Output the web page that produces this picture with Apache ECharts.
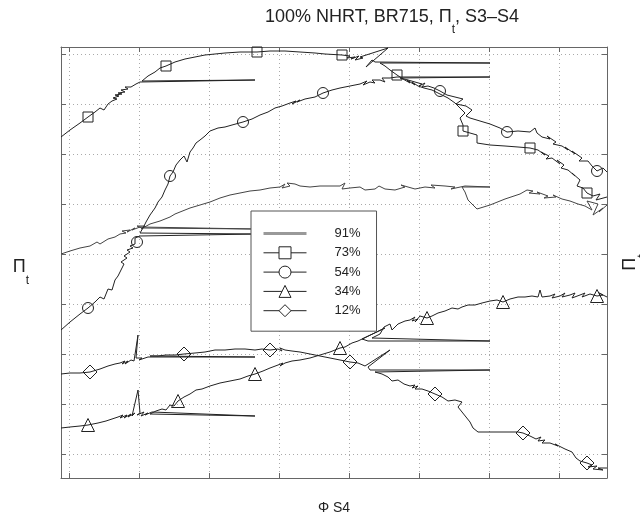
<!DOCTYPE html>
<html><head><meta charset="utf-8">
<script src="https://cdn.jsdelivr.net/npm/echarts@6/dist/echarts.min.js"></script>
<style>html,body{margin:0;padding:0;background:#fff}#c{width:640px;height:517px}</style>
</head><body><div id="c"></div>
<script>
const xTicks = [0,7,14,21,28,35,42,49];
const yTicks = [0,5,10,15,20,25,30,35,40];
const seriesNames = ['91%','73%','54%','34%','12%'];
const seriesSymbols = ['none','rect','circle','triangle','diamond'];
const seriesSymbolSizes = [0,10,11,13,14];
// [phi, pi, markerFlag]
const s91 = [[-0.8,20.0],[0.1,20.3],[1.1,20.6],[2.1,20.8],[2.8,21.2],[3.1,21.0],[3.9,21.5],[4.6,21.7],[5.1,22.0],[5.7,22.1],[5.3,22.3],[6.1,22.4],[5.8,22.2],[6.6,22.6],[6.3,22.4],[7.1,22.7],[18.6,22.5],[7.3,22.6],[6.8,22.8],[7.6,22.8],[7.2,22.5],[8.1,23.0],[9.1,23.3],[10.1,23.7],[10.6,24.0],[11.1,24.2],[12.1,24.6],[13.1,24.9],[14.1,25.2],[15.1,25.6],[16.1,25.9],[17.1,26.1],[18.1,26.3],[19.1,26.4],[20.1,26.6],[21.1,26.7],[21.6,27.0],[21.3,26.6],[22.1,26.8],[21.8,27.1],[22.6,27.0],[23.1,26.8],[24.1,26.7],[25.1,26.8],[26.1,26.8],[27.1,26.8],[27.6,27.1],[27.3,26.5],[28.1,26.6],[29.1,26.7],[29.6,26.4],[30.6,26.5],[31.0,26.8],[31.6,26.5],[32.6,26.4],[33.6,26.7],[33.2,26.9],[34.6,26.5],[35.6,26.7],[36.6,26.6],[36.2,26.9],[37.6,26.8],[38.6,26.7],[38.2,26.5],[39.6,26.8],[42.1,26.7],[39.3,26.7],[39.6,26.2],[39.9,25.4],[40.8,24.5],[42.1,24.9],[43.6,25.5],[45.1,26.0],[45.8,26.4],[46.4,26.3],[46.0,26.1],[47.1,26.0],[46.8,26.2],[47.9,25.8],[47.5,25.6],[48.7,25.7],[48.4,25.9],[49.3,25.5],[50.1,25.3],[50.9,25.0],[51.6,24.8],[52.3,24.4],[51.8,25.3],[52.9,25.0],[52.4,23.9],[53.4,24.6],[53.0,24.2],[53.8,24.9]];
const s73 = [[-0.8,31.7],[0.1,32.4],[1.1,33.1],[1.9,33.7,1],[2.6,34.2],[3.1,34.6],[3.5,34.4],[3.9,35.0],[4.3,35.3],[4.8,35.5],[4.4,35.6],[5.0,35.8],[4.6,35.9],[5.3,36.0],[4.9,36.1],[5.6,36.2],[5.2,36.4],[5.9,36.5],[5.6,36.7],[6.2,36.7],[6.7,37.0],[7.1,37.2],[18.6,37.4],[7.3,37.3],[7.9,37.8],[8.6,38.2],[9.1,38.6],[9.7,38.8,1],[10.6,39.2],[11.6,39.5],[12.6,39.7],[13.6,39.9],[14.6,40.0],[15.6,40.1],[17.1,40.2],[18.8,40.2,1],[20.1,40.3],[21.6,40.3],[23.1,40.2],[24.6,40.1],[25.6,40.0],[27.3,39.9,1],[28.1,39.8],[27.8,39.6],[28.6,39.7],[28.2,39.5],[29.0,39.8],[28.6,39.4],[29.4,39.6],[29.1,39.7],[31.9,40.6],[29.7,38.7],[30.3,39.4],[30.6,39.2],[42.1,39.1],[31.1,39.1],[31.6,38.8],[32.1,38.4],[32.8,37.9,1],[33.4,37.5],[34.1,37.1],[33.8,37.4],[34.6,36.9],[34.3,37.2],[34.9,36.8],[35.5,36.6],[36.3,36.4],[37.1,36.0],[37.9,35.6],[38.6,35.1],[39.1,34.6],[39.6,34.1],[39.1,33.6],[39.4,32.9],[39.4,32.3,1],[40.1,32.1],[40.8,31.9],[40.8,31.1],[42.1,30.9],[43.6,30.8],[44.9,30.7],[46.1,30.6,1],[46.9,30.4],[47.6,29.9],[47.2,30.2],[48.0,29.8],[47.7,29.5],[48.3,29.6],[49.1,29.0],[48.8,29.4],[49.5,28.9],[49.2,28.6],[49.9,28.4],[50.6,27.8],[50.3,28.1],[51.1,27.4],[50.8,26.8],[51.4,26.6],[51.8,26.1,1],[52.4,25.8],[53.1,26.0],[52.7,25.4],[53.8,25.7]];
const s54 = [[-0.8,12.4],[0.1,13.2],[1.1,14.0],[1.9,14.6,1],[2.6,15.2],[3.1,15.7],[3.5,15.5],[3.9,16.5],[4.3,16.4],[4.6,17.4],[4.9,17.8],[5.2,18.4],[5.5,19.0],[5.2,19.2],[5.8,19.6],[5.5,19.8],[6.1,20.2],[5.8,20.4],[6.4,20.6],[6.1,20.8],[6.6,21.0],[6.8,21.2,1],[6.6,21.6],[7.1,21.8],[18.6,22.0],[7.1,22.1],[7.4,22.6],[7.7,23.2],[8.1,23.9],[8.6,24.6],[8.9,25.2],[9.3,25.7],[9.6,26.4],[9.9,27.0],[10.1,27.8,1],[10.4,28.2],[10.7,28.9],[11.1,29.4],[11.5,29.8],[11.8,29.2],[12.1,30.2],[12.4,30.6],[12.7,31.1],[13.1,31.4],[13.6,31.8],[14.1,32.3],[14.9,32.6],[15.6,32.7],[16.3,32.9],[17.4,33.2,1],[18.3,33.5],[19.1,33.9],[19.9,34.2],[20.6,34.6],[21.3,34.8],[22.1,35.1],[22.7,35.3],[22.3,35.0],[23.1,35.4],[22.8,35.2],[23.6,35.5],[24.6,35.7],[25.4,36.1,1],[26.3,36.4],[27.1,36.6],[28.1,36.8],[29.1,37.0],[29.8,37.3],[29.4,36.9],[30.1,37.2],[30.6,37.1],[30.3,37.4],[31.1,37.4],[31.6,37.2],[31.3,37.6],[32.1,37.6],[32.8,37.7],[42.1,37.7],[33.1,37.6],[33.9,37.4],[34.6,37.2],[35.3,37.0],[35.0,36.8],[35.6,37.1],[35.3,36.7],[35.9,36.8],[36.5,36.6],[37.1,36.3,1],[37.8,35.9],[38.6,35.7],[39.4,35.5],[38.7,35.0],[39.7,34.8],[40.3,34.4],[39.7,33.8],[40.1,33.6],[41.1,33.3],[42.1,33.0],[43.1,32.6],[43.8,32.2,1],[44.9,32.3],[46.1,32.2],[46.6,32.6],[46.8,32.1],[47.3,31.7],[48.1,31.5],[47.8,31.8],[48.7,31.2],[48.4,31.0],[49.3,30.8],[49.9,30.4],[49.6,30.7],[50.6,30.0],[50.3,30.3],[51.3,29.6],[51.0,29.3],[51.9,29.3],[52.3,28.8],[52.8,28.3,1],[53.4,28.6],[53.8,28.2]];
const s34 = [[-0.8,2.6],[0.1,2.7],[1.1,2.8],[1.9,2.9,1],[2.9,3.1],[3.7,3.3],[4.3,3.5],[4.9,3.7],[5.4,3.9],[5.1,3.6],[5.8,3.9],[5.5,3.6],[6.2,4.0],[5.9,3.7],[6.6,4.1],[6.3,3.8],[6.9,6.4],[7.1,4.1],[6.8,3.9],[7.5,4.2],[7.2,3.8],[7.9,4.1],[7.6,3.9],[8.3,4.2],[18.6,3.8],[8.1,4.0],[8.7,4.3],[9.3,4.5],[9.7,4.4],[10.1,4.9],[10.5,4.8],[10.9,5.3,1],[11.5,5.7],[12.1,6.0],[12.7,6.4],[13.3,6.5],[14.1,6.8],[15.1,7.1],[16.1,7.3],[17.1,7.5],[17.9,7.8],[18.6,8.0,1],[19.4,8.3],[20.1,8.6],[20.9,8.9],[21.4,9.1],[21.1,8.8],[21.6,9.1],[22.3,9.3],[23.1,9.4],[24.1,9.6],[25.1,9.9],[26.1,10.2],[27.1,10.6,1],[27.6,10.7],[28.3,11.1],[28.9,11.3],[31.6,12.6],[29.3,11.5],[29.9,11.3],[42.1,11.3],[30.3,11.6],[31.1,12.0],[31.5,12.7],[32.1,13.0],[32.3,12.4],[32.9,13.0],[33.6,13.3],[34.1,13.4],[34.6,13.7],[34.3,13.3],[34.9,13.5],[34.6,13.2],[35.1,13.8],[35.8,13.6,1],[36.3,13.8],[36.9,14.1],[37.6,14.3],[38.3,14.6],[38.9,14.5],[39.3,14.7],[39.9,14.9],[40.6,14.9],[41.3,15.1],[42.1,15.3],[42.8,15.4],[43.4,15.2,1],[44.1,15.5],[44.9,15.7],[45.6,15.7],[46.3,15.8],[46.9,15.7],[47.1,16.4],[47.3,15.7],[48.1,15.8],[48.6,16.0],[48.3,15.6],[49.1,15.8],[49.6,16.1],[49.3,15.7],[50.1,15.9],[50.6,16.1],[50.3,15.6],[51.1,15.9],[51.6,16.1],[51.3,15.7],[52.1,16.0],[52.8,15.8,1],[53.4,15.9],[53.0,16.1],[53.8,15.7]];
const s12 = [[-0.8,8.0],[0.1,8.1],[1.1,8.1],[2.1,8.2,1],[3.1,8.5],[3.9,8.8],[4.6,9.0],[5.1,9.1],[5.6,9.3],[5.3,9.0],[5.9,9.3],[5.6,9.0],[6.2,9.4],[6.5,9.3],[6.9,11.9],[6.7,9.6],[7.3,9.6],[7.0,9.4],[7.9,9.7],[18.6,9.7],[8.1,9.8],[8.9,9.8],[9.7,9.9],[10.6,9.9],[11.5,10.0,1],[12.6,10.1],[13.6,10.2],[14.6,10.4],[15.6,10.4],[16.6,10.5],[17.6,10.5],[18.6,10.4],[19.3,10.5],[20.1,10.4,1],[20.9,10.5],[21.3,10.3],[21.1,10.6],[21.6,10.4],[22.3,10.3],[23.1,10.2],[24.1,10.0],[25.1,9.8],[26.1,9.6],[27.1,9.4],[28.1,9.2,1],[28.9,9.1],[29.6,8.8],[32.1,10.4],[29.9,8.7],[30.1,8.4],[42.1,8.4],[30.6,8.2],[31.3,8.0],[31.9,7.7],[32.3,7.3],[32.9,7.4],[33.5,7.0],[34.1,6.8],[34.6,6.9],[34.3,6.6],[34.9,6.8],[34.6,6.5],[35.3,6.5],[35.9,6.3],[36.6,6.0,1],[37.3,5.7],[37.9,5.3],[38.6,5.4],[39.3,5.2],[38.9,4.7],[39.3,4.2],[39.7,3.7],[40.1,3.2],[40.4,2.6],[40.9,2.2],[42.1,2.2],[43.6,2.2],[44.9,2.2],[45.4,2.1,1],[46.1,1.8],[46.7,1.5],[47.2,1.7],[46.9,1.3],[47.6,1.4],[47.3,1.1],[48.1,1.1],[48.9,0.8],[48.6,1.0],[49.6,0.5],[50.3,0.2],[50.7,-0.4],[51.1,-0.7],[51.8,-0.9,1],[52.3,-1.1],[51.9,-1.3],[52.8,-1.2],[52.4,-1.5],[53.4,-1.6],[52.9,-1.4],[53.8,-1.4]];
const seriesData = [s91, s73, s54, s34, s12];

const FONT = 'Liberation Sans, Arial, sans-serif';
const chart = echarts.init(document.getElementById('c'), null, {renderer:'canvas'});
const piRich = {
  n:{fontSize:18, lineHeight:28, verticalAlign:'top', color:'#222', fontFamily:FONT},
  p:{fontSize:18, lineHeight:28, verticalAlign:'top', color:'#222', fontFamily:FONT},
  s:{fontSize:12, lineHeight:12, verticalAlign:'bottom', color:'#222', fontFamily:FONT}
};
function axisCommon(ticks, min, max){
  return {type:'value', min:min, max:max,
    axisLine:{show:true, onZero:false, lineStyle:{color:'#666', width:1}},
    axisTick:{show:true, inside:true, length:5, customValues:ticks, lineStyle:{color:'#666'}},
    axisLabel:{show:false, customValues:ticks},
    splitLine:{show:false}};
}
const gridSplit = {show:true, lineStyle:{color:'#aaa', type:[1,3], width:1}};

const series = seriesData.map((arr, i) => ({
  name: seriesNames[i], type:'line',
  symbol: seriesSymbols[i], symbolSize: seriesSymbolSizes[i], showSymbol: true,
  data: arr.map(p => ({value:[p[0], p[1]], symbol: p[2] ? seriesSymbols[i] : 'none'})),
  lineStyle:{color: i === 0 ? '#444' : '#222', width:1},
  itemStyle:{color:'rgba(0,0,0,0)', borderColor:'#222', borderWidth:1},
  emphasis:{disabled:true}, silent:true, clip:true, z: 2
}));

const option = {
  animation:false,
  backgroundColor:'#fff',
  title:{
    text:'{n|100% NHRT, BR715, }{p|Π}{s|t}{n|, S3–S4}',
    left:265, top:8, padding:0,
    textStyle:{fontWeight:'normal', fontFamily:FONT, rich:piRich}
  },
  grid:{left:61, top:47, right:33, bottom:39, containLabel:false, outerBoundsMode:'none'},
  xAxis:[
    Object.assign(axisCommon(xTicks,-0.8,53.8), {position:'bottom', splitLine:gridSplit,
      name:'Φ S4', nameLocation:'middle', nameGap:23,
      nameTextStyle:{fontSize:14, color:'#222', fontFamily:FONT}}),
    Object.assign(axisCommon(xTicks,-0.8,53.8), {position:'top'})
  ],
  yAxis:[
    Object.assign(axisCommon(yTicks,-2.4,40.7), {position:'left', splitLine:gridSplit,
      name:'{p|Π}{s|t}', nameLocation:'middle', nameRotate:0, nameGap:32,
      nameTextStyle:{rich:piRich, padding:[20,0,0,0]}}),
    Object.assign(axisCommon(yTicks,-2.4,40.7), {position:'right',
      name:'{p|Π}{s|t}', nameLocation:'middle', nameRotate:90, nameGap:14,
      nameTextStyle:{rich:piRich}})
  ],
  legend:{
    orient:'vertical', left:251, top:211,
    padding:[16,16,14,11], itemWidth:43, itemHeight:15, itemGap:6.3,
    backgroundColor:'#fff', borderColor:'#555', borderWidth:1, borderRadius:0,
    textStyle:{fontSize:13, color:'#222', fontFamily:FONT, padding:[0,0,0,23]},
    selectedMode:false,
    data: seriesNames.map((n, i) => i === 0
      ? {name:n, lineStyle:{color:'#999', width:3}, itemStyle:{color:'rgba(0,0,0,0)', borderColor:'rgba(0,0,0,0)', borderWidth:0, opacity:0}}
      : {name:n, itemStyle:{color:'#fff', borderColor:'#222', borderWidth:1}, lineStyle:{color:'#222', width:1}})
  },
  series: series
};
chart.setOption(option);
</script></body></html>
